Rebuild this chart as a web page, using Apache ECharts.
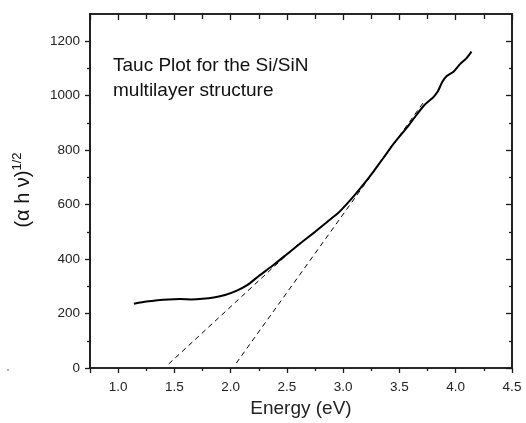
<!DOCTYPE html>
<html>
<head>
<meta charset="utf-8">
<script src="https://cdn.jsdelivr.net/npm/echarts@6/dist/echarts.min.js"></script>
<style>html,body{margin:0;padding:0;background:#fff}#c{width:526px;height:423px}</style>
</head>
<body>
<div id="c"></div>
<script>
// ---- data ----
const energy = [1.14,1.25,1.35,1.45,1.55,1.65,1.75,1.85,1.95,2.05,2.15,2.25,2.38,2.5,2.62,2.75,2.86,2.95,3.0,3.1,3.2,3.27,3.36,3.45,3.57,3.65,3.72,3.76,3.8,3.84,3.88,3.92,3.98,4.04,4.09,4.14];
const tauc   = [236,244,249,252,253,252,254,259,268,283,305,338,378,418,458,500,537,567,588,634,684,722,773,825,885,929,965,980,994,1015,1050,1072,1088,1117,1135,1162];
const fit1E = [1.45, 2.62];
const fit1V = [15, 462];
const fit2E = [2.05, 3.73];
const fit2V = [18, 985];
const xMajorTicks = [0.75,1.0,1.5,2.0,2.5,3.0,3.5,4.0,4.5];
const xLabels = [1.0,1.5,2.0,2.5,3.0,3.5,4.0,4.5];
const xMinorTicks = [1.25,1.75,2.25,2.75,3.25,3.75,4.25];
const yMajorTicks = [0,200,400,600,800,1000,1200];
const yMinorTicks = [100,300,500,700,900,1100];
const xTitle = 'Energy (eV)';
const annot1 = 'Tauc Plot for the Si/SiN';
const annot2 = 'multilayer structure';

const FONT = "'Liberation Sans', Arial, sans-serif";
const X_MIN = 0.75, X_MAX = 4.5, Y_MIN = 0, Y_MAX = 1300;
const lineCol = '#1a1a1a';

function xAx(pos, ticks, len, inside, labels, name) {
  const a = {
    type: 'value', position: pos, min: X_MIN, max: X_MAX,
    axisLine: {show: true, onZero: false, lineStyle: {color: lineCol, width: 1.6}},
    axisTick: {show: true, inside: inside, length: len, customValues: ticks, lineStyle: {color: lineCol, width: 1.3}},
    axisLabel: labels ? {show: true, customValues: labels, margin: 12, color: '#222', fontSize: 13.5, fontFamily: FONT,
      formatter: v => v.toFixed(1)} : {show: false},
    splitLine: {show: false}
  };
  if (name) {
    a.name = name; a.nameLocation = 'middle'; a.nameGap = 26;
    a.nameTextStyle = {fontSize: 19, fontFamily: FONT, color: '#222'};
  }
  return a;
}
function yAx(pos, ticks, len, inside, labels) {
  return {
    type: 'value', position: pos, min: Y_MIN, max: Y_MAX,
    axisLine: {show: true, onZero: false, lineStyle: {color: lineCol, width: 1.6}},
    axisTick: {show: true, inside: inside, length: len, customValues: ticks, lineStyle: {color: lineCol, width: 1.3}},
    axisLabel: labels ? {show: true, customValues: labels, margin: 10, color: '#222', fontSize: 13.5, fontFamily: FONT,
      formatter: v => String(v)} : {show: false},
    splitLine: {show: false}
  };
}

const chart = echarts.init(document.getElementById('c'), null, {renderer: 'canvas'});
chart.setOption({
  animation: false,
  backgroundColor: '#fff',
  grid: {left: 90, right: 14, top: 14, bottom: 55, containLabel: false},
  xAxis: [
    xAx('bottom', xMajorTicks, 5, false, xLabels, xTitle),
    xAx('bottom', xMinorTicks, 3, false, null),
    xAx('top', xMajorTicks, 6, true, null),
    xAx('top', xMinorTicks, 5, true, null)
  ],
  yAxis: [
    yAx('left', yMajorTicks, 5, false, yMajorTicks),
    yAx('left', yMinorTicks, 3, false, null),
    yAx('right', yMajorTicks, 6, true, null),
    yAx('right', yMinorTicks, 3, true, null)
  ],
  series: [
    {type: 'line', xAxisIndex: 0, yAxisIndex: 0, showSymbol: false, smooth: 0.15,
      data: energy.map((e, i) => [e, tauc[i]]), lineStyle: {color: '#000', width: 2}, z: 3},
    {type: 'line', xAxisIndex: 0, yAxisIndex: 0, showSymbol: false,
      data: fit1E.map((e, i) => [e, fit1V[i]]), lineStyle: {color: '#000', width: 1, type: [5, 4]}, z: 2},
    {type: 'line', xAxisIndex: 0, yAxisIndex: 0, showSymbol: false,
      data: fit2E.map((e, i) => [e, fit2V[i]]), lineStyle: {color: '#000', width: 1, type: [5, 4]}, z: 2}
  ],
  graphic: [
    {type: 'text', left: 113, top: 56, style: {text: annot1, font: '19px ' + FONT, fill: '#111'}},
    {type: 'text', left: 113, top: 81, style: {text: annot2, font: '19px ' + FONT, fill: '#111'}},
    {type: 'text', x: 23, y: 190, rotation: Math.PI / 2,
      style: {text: '{a|(α h ν)}{s|1/2}', align: 'center', verticalAlign: 'middle',
        rich: {a: {fontSize: 20, fontFamily: FONT, fill: '#111', lineHeight: 24},
               s: {fontSize: 13, fontFamily: FONT, fill: '#111', verticalAlign: 'top', lineHeight: 14}}}},
    {type: 'circle', shape: {cx: 8, cy: 370, r: 0.8}, style: {fill: '#555'}}
  ]
});
</script>
</body>
</html>
